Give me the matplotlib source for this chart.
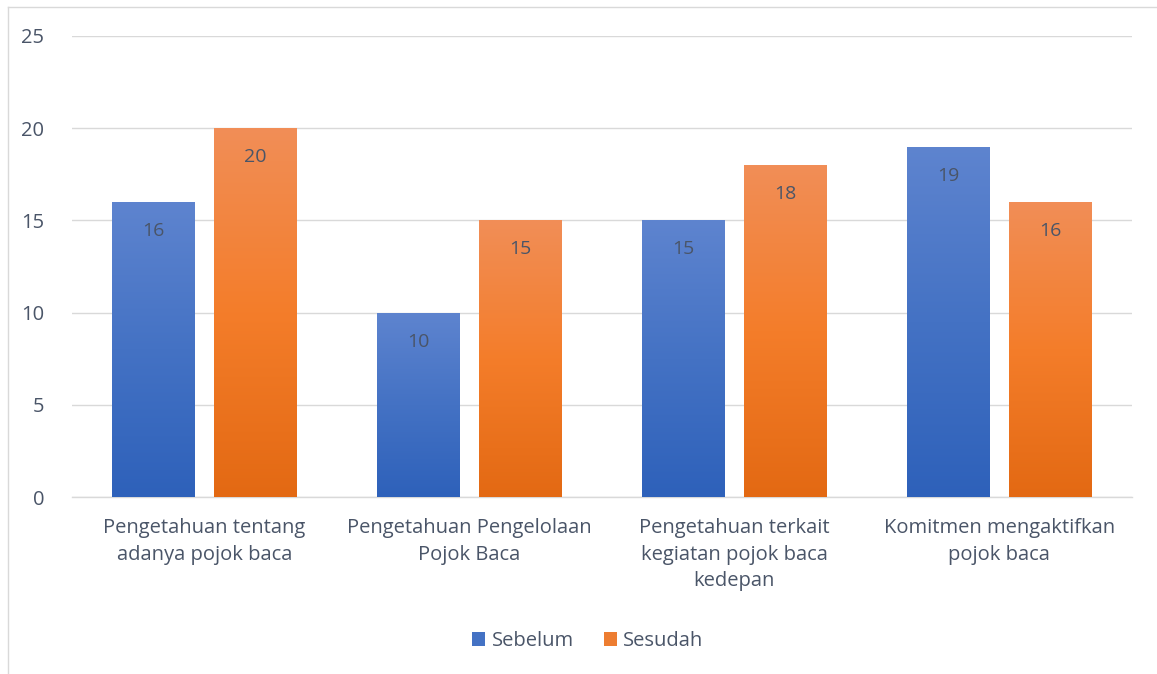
import numpy as np
import matplotlib.pyplot as plt
from matplotlib.colors import LinearSegmentedColormap
from matplotlib.lines import Line2D
from matplotlib.patches import Patch

plt.rcParams['font.family'] = ['Open Sans', 'DejaVu Sans']

# ─── Data ────────────────────────────────────────────────────────────────────
categories = ["Pengetahuan tentang\nadanya pojok baca",
              "Pengetahuan Pengelolaan\nPojok Baca",
              "Pengetahuan terkait\nkegiatan pojok baca\nkedepan",
              "Komitmen mengaktifkan\npojok baca"]
sebelum = [16, 10, 15, 19]
sesudah = [20, 15, 18, 16]
series_names = ["Sebelum", "Sesudah"]

TEXT = '#4A5568'
blue_grad = LinearSegmentedColormap.from_list("b", ["#2E61BA", "#4472C4", "#5E84CF"])
orange_grad = LinearSegmentedColormap.from_list("o", ["#E36913", "#F47D2A", "#F18E57"])

fig = plt.figure(figsize=(11.57, 6.74), dpi=100)
ax = fig.add_axes([0.0622, 0.2626, 0.9158, 0.684])

x = np.arange(len(categories))
w = 0.31
off = 0.193

def grad_bars(xpos, vals, cmap):
    bars = ax.bar(xpos, vals, width=w, color='none', zorder=3)
    grad = np.linspace(0, 1, 256).reshape(-1, 1)
    for b in bars:
        x0, y0 = b.get_x(), b.get_y()
        im = ax.imshow(grad, cmap=cmap, origin='lower', aspect='auto',
                       extent=[x0, x0 + b.get_width(), y0, y0 + b.get_height()],
                       zorder=3)
        im.set_clip_path(b)
        ax.annotate(f"{b.get_height():g}", (x0 + b.get_width() / 2, y0 + b.get_height()),
                    xytext=(0, -29), textcoords='offset pixels',
                    ha='center', va='center', fontsize=14, color=TEXT, zorder=4)
    return bars

grad_bars(x - off, sebelum, blue_grad)
grad_bars(x + off, sesudah, orange_grad)

ax.set_xlim(-0.5, len(categories) - 0.5)
ax.set_ylim(0, 25)
ax.set_yticks(range(0, 26, 5))
ax.grid(axis='y', color='#D9D9D9', linewidth=1, zorder=0)
ax.set_axisbelow(True)
for s in ['top', 'right', 'left']:
    ax.spines[s].set_visible(False)
ax.spines['bottom'].set_color('#D9D9D9')
ax.spines['bottom'].set_linewidth(1)
ax.tick_params(axis='both', length=0, labelsize=14.5, labelcolor=TEXT)
ax.tick_params(axis='y', pad=20)
ax.tick_params(axis='x', pad=15)
ax.set_xticks(x)
ax.set_xticklabels(categories, linespacing=1.45)

handles = [Patch(facecolor="#4472C4", label=series_names[0]),
           Patch(facecolor="#ED7D31", label=series_names[1])]
fig.legend(handles=handles, loc='center', bbox_to_anchor=(0.508, 0.049), ncol=2,
           frameon=False, fontsize=14.5, labelcolor=TEXT,
           handlelength=0.65, handleheight=0.65, handletextpad=0.3, columnspacing=1.5)

# light chart-area border (left and top edges visible)
fig.add_artist(Line2D([0.0065, 0.0065], [0, 0.99], color='#D9D9D9', lw=1, transform=fig.transFigure))
fig.add_artist(Line2D([0.0065, 1], [0.99, 0.99], color='#D9D9D9', lw=1, transform=fig.transFigure))

fig.savefig("out.png", dpi=100)
